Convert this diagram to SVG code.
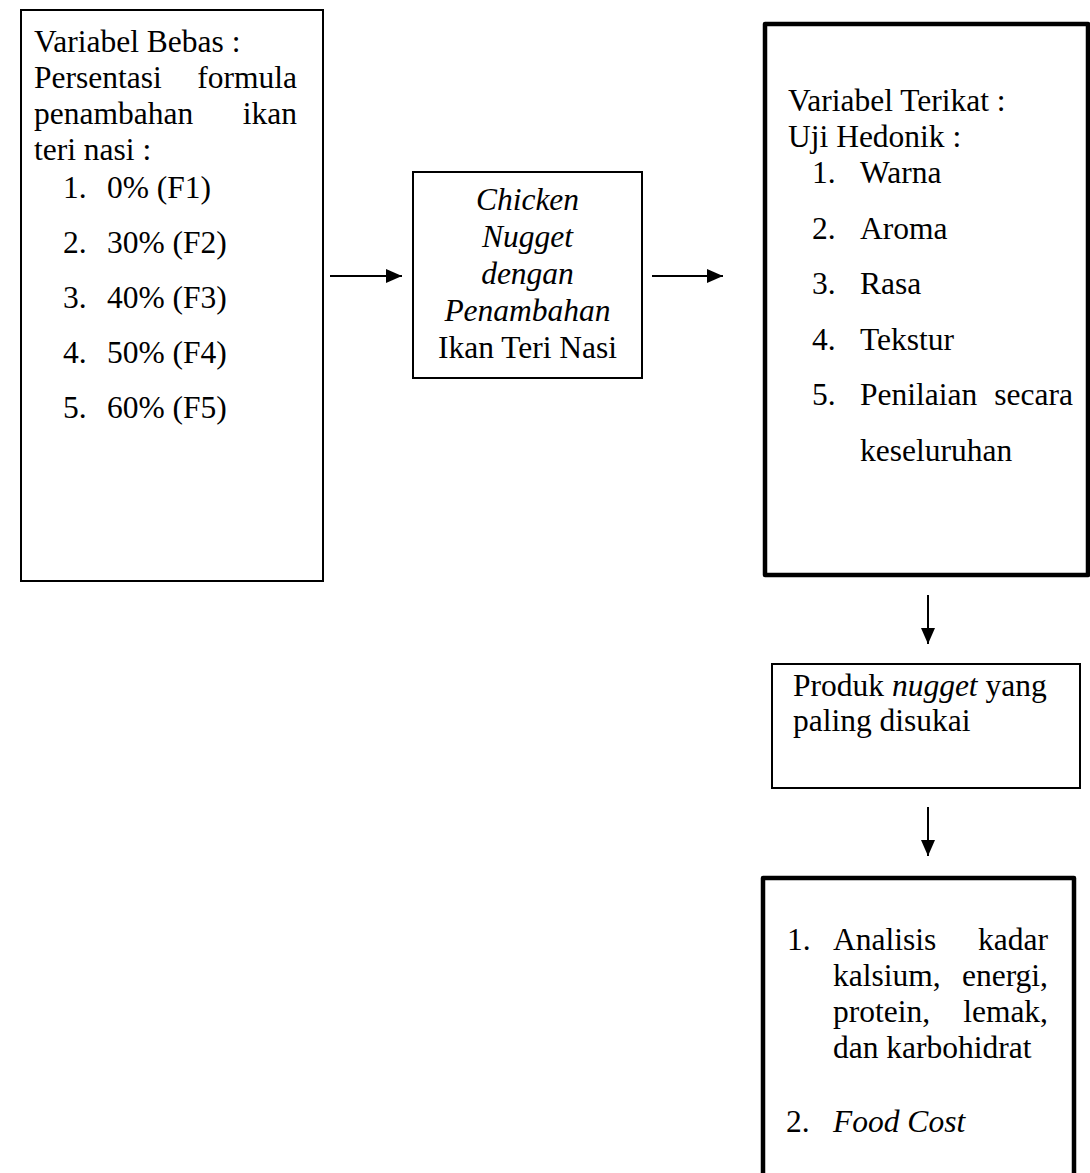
<svg xmlns="http://www.w3.org/2000/svg" width="1090" height="1173" viewBox="0 0 1090 1173">
<style>
.box{fill:#fff;stroke:#000;stroke-width:2}
.thick{stroke-width:4.5;stroke-linejoin:round}
.t{font-family:"Liberation Serif","Times New Roman",serif;font-size:31.5px;fill:#000}
.i{font-style:italic}
.c{text-anchor:middle}
.e{text-anchor:end}
.conn{stroke:#000;stroke-width:2;fill:none}
</style>
<defs>
<marker id="ah" markerUnits="userSpaceOnUse" markerWidth="16" markerHeight="14" refX="16" refY="7" orient="auto">
<path d="M0,0 L16,7 L0,14 z" fill="#000"/>
</marker>
</defs>
<rect width="1090" height="1173" fill="#fff"/>
<g id="node-bebas">
<rect class="box" x="21" y="10" width="302" height="571"/>
<text class="t" x="34" y="52">Variabel Bebas :</text>
<text class="t" x="34" y="88">Persentasi</text><text class="t e" x="297" y="88">formula</text>
<text class="t" x="34" y="124">penambahan</text><text class="t e" x="297" y="124">ikan</text>
<text class="t" x="34" y="160">teri nasi :</text>
<text class="t" x="63" y="198">1.</text><text class="t" x="107" y="198">0% (F1)</text>
<text class="t" x="63" y="253">2.</text><text class="t" x="107" y="253">30% (F2)</text>
<text class="t" x="63" y="308">3.</text><text class="t" x="107" y="308">40% (F3)</text>
<text class="t" x="63" y="363">4.</text><text class="t" x="107" y="363">50% (F4)</text>
<text class="t" x="63" y="418">5.</text><text class="t" x="107" y="418">60% (F5)</text>
</g>
<g id="node-nugget">
<rect class="box" x="413" y="172" width="229" height="206"/>
<text class="t i c" x="527.5" y="210">Chicken</text>
<text class="t i c" x="527.5" y="247">Nugget</text>
<text class="t i c" x="527.5" y="284">dengan</text>
<text class="t i c" x="527.5" y="321">Penambahan</text>
<text class="t c" x="527.5" y="358">Ikan Teri Nasi</text>
</g>
<g id="node-terikat">
<rect class="box thick" x="765" y="24" width="323" height="551"/>
<text class="t" x="788" y="111">Variabel Terikat :</text>
<text class="t" x="788" y="147">Uji Hedonik :</text>
<text class="t" x="812" y="183">1.</text><text class="t" x="860" y="183">Warna</text>
<text class="t" x="812" y="239">2.</text><text class="t" x="860" y="239">Aroma</text>
<text class="t" x="812" y="294">3.</text><text class="t" x="860" y="294">Rasa</text>
<text class="t" x="812" y="350">4.</text><text class="t" x="860" y="350">Tekstur</text>
<text class="t" x="812" y="405">5.</text><text class="t" x="860" y="405">Penilaian</text><text class="t e" x="1073" y="405">secara</text>
<text class="t" x="860" y="461">keseluruhan</text>
</g>
<g id="node-disukai">
<rect class="box" x="772" y="664" width="308" height="124"/>
<text class="t" x="793" y="696">Produk <tspan class="i">nugget</tspan> yang</text>
<text class="t" x="793" y="731">paling disukai</text>
</g>
<g id="node-analisis">
<rect class="box thick" x="763" y="878" width="311" height="320"/>
<text class="t" x="787" y="950">1.</text><text class="t" x="833" y="950">Analisis</text><text class="t e" x="1048" y="950">kadar</text>
<text class="t" x="833" y="986">kalsium,</text><text class="t e" x="1048" y="986">energi,</text>
<text class="t" x="833" y="1022">protein,</text><text class="t e" x="1048" y="1022">lemak,</text>
<text class="t" x="833" y="1058">dan karbohidrat</text>
<text class="t" x="786" y="1132">2.</text><text class="t i" x="833" y="1132">Food Cost</text>
</g>
<g id="connectors">
<line class="conn" x1="330" y1="276" x2="402" y2="276" marker-end="url(#ah)"/>
<line class="conn" x1="652" y1="276" x2="723" y2="276" marker-end="url(#ah)"/>
<line class="conn" x1="928" y1="595" x2="928" y2="644" marker-end="url(#ah)"/>
<line class="conn" x1="928" y1="807" x2="928" y2="856" marker-end="url(#ah)"/>
</g>
</svg>
